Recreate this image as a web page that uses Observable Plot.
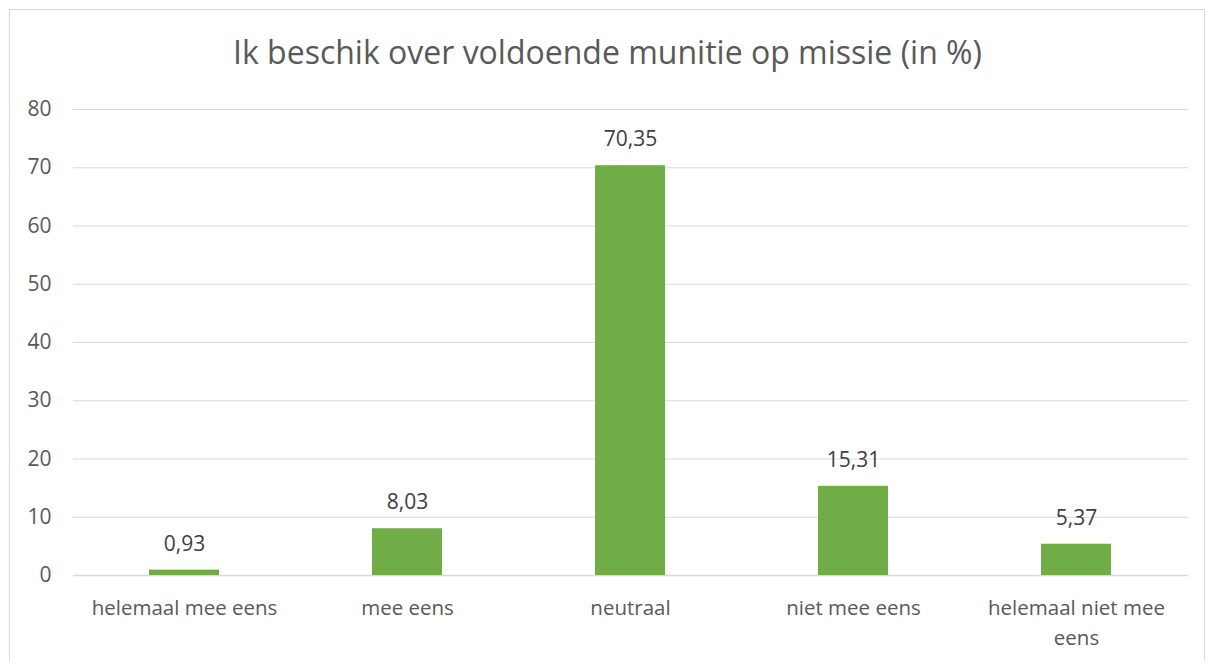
<!DOCTYPE html>
<html>
<head>
<meta charset="utf-8">
<script src="https://cdn.jsdelivr.net/npm/d3@7"></script>
<script src="https://cdn.jsdelivr.net/npm/@observablehq/plot@0.6"></script>
<style>
  html, body { margin: 0; padding: 0; background: #fff; }
  #wrap { position: relative; width: 1215px; height: 661px; overflow: hidden; font-family: "Open Sans", "Liberation Sans", sans-serif; }
  #frame { position: absolute; left: 9px; top: 9px; width: 1196px; height: 700px; border: 1px solid #d9d9d9; box-sizing: border-box; }
  #title { position: absolute; left: 0; top: 29px; width: 1215px; text-align: center; font-size: 32px; color: #595959; line-height: 46px; }
  #chart { position: absolute; left: 0; top: 0; }
</style>
</head>
<body>
<div id="wrap">
  <div id="frame"></div>
  <div id="title">Ik beschik over voldoende munitie op missie (in %)</div>
  <div id="chart"></div>
</div>
<script>
const categories = ["helemaal mee eens", "mee eens", "neutraal", "niet mee eens", "helemaal niet mee eens"];
const tickLabels = ["helemaal mee eens", "mee eens", "neutraal", "niet mee eens", "helemaal niet mee\neens"];
const values = [0.93, 8.03, 70.35, 15.31, 5.37];
const yTicks = [0, 10, 20, 30, 40, 50, 60, 70, 80];

const data = categories.map((c, i) => ({cat: c, value: values[i]}));
const fmt = v => v.toFixed(2).replace(".", ",");

const plot = Plot.plot({
  width: 1215,
  height: 661,
  marginLeft: 73,
  marginRight: 27,
  marginTop: 109,
  marginBottom: 86,
  style: {fontFamily: "'Open Sans', 'Liberation Sans', sans-serif", fontSize: "20px", color: "#595959", background: "transparent"},
  x: {domain: categories, paddingInner: 0.686, paddingOuter: 0.343, align: 0.5},
  y: {domain: [0, 80]},
  marks: [
    Plot.gridY(yTicks, {stroke: "#d9d9d9", strokeOpacity: 1, strokeWidth: 1}),
    Plot.ruleY([0], {stroke: "#d9d9d9", strokeWidth: 1.5}),
    Plot.barY(data, {x: "cat", y: "value", fill: "#70ad47"}),
    Plot.text(data, {x: "cat", y: "value", text: d => fmt(d.value), dy: -26, fontSize: 21, fill: "#404040"}),
    Plot.axisY(yTicks, {tickSize: 0, tickPadding: 22, fontSize: 21, fill: "#595959", label: null}),
    Plot.axisX({tickSize: 0, tickPadding: 18, fontSize: 20.5, fill: "#595959", label: null, lineHeight: 1.46,
      tickFormat: d => tickLabels[categories.indexOf(d)]})
  ]
});
document.getElementById("chart").appendChild(plot);
</script>
</body>
</html>
